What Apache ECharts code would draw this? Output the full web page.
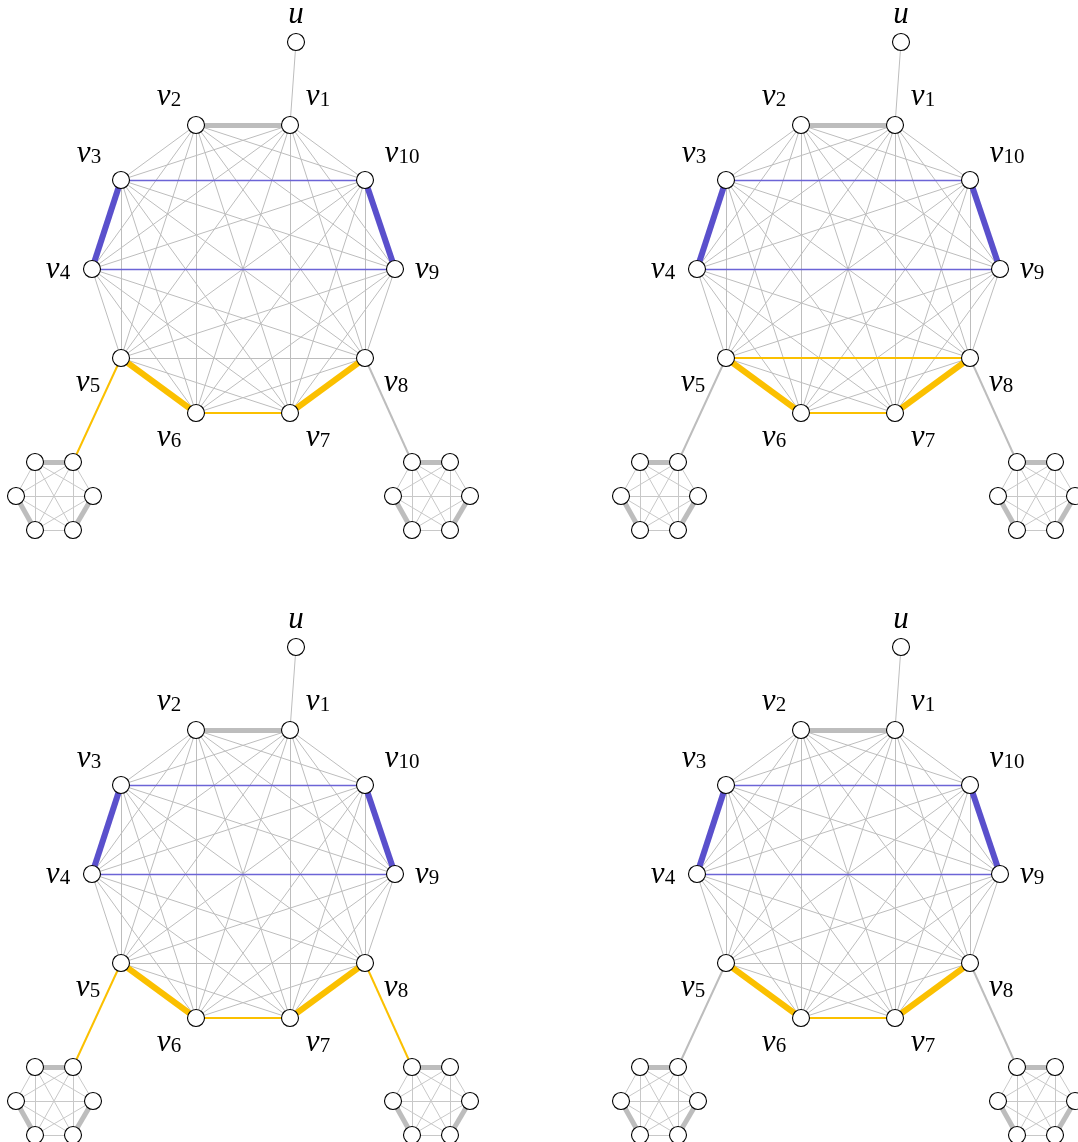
<!DOCTYPE html>
<html>
<head>
<meta charset="utf-8">
<style>
  html, body { margin: 0; padding: 0; background: #fff; }
  #chart { width: 1078px; height: 1142px; }
</style>
<script src="https://cdn.jsdelivr.net/npm/echarts@6/dist/echarts.min.js"></script>
</head>
<body>
<div id="chart"></div>
<script>
// nodes of the big graph (u + decagon), coordinates relative to decagon centre, y up
var bigNames = ['u', 'v1', 'v2', 'v3', 'v4', 'v5', 'v6', 'v7', 'v8', 'v9', 'v10'];
var bigX = [53, 47, -47, -122, -151, -122, -47, 47, 122, 152, 122];
var bigY = [227, 144, 144, 89, 0, -89, -144, -144, -89, 0, 89];

// the two small K6 gadgets: top-left, top-right, left, right, bottom-left, bottom-right
var leftHexX = [-208, -170, -227, -150, -208, -170];
var rightHexX = [169, 207, 150, 227, 169, 207];
var hexY = [-193, -193, -227, -227, -261, -261];
var hexMatching = [[0, 1], [2, 4], [3, 5]];

// colored edges, shared by all four drawings: [a, b, kind]
var commonEdges = [
  ['u', 'v1', 'thin'],
  ['v1', 'v2', 'thickGray'],
  ['v3', 'v10', 'thinBlue'],
  ['v4', 'v9', 'thinBlue'],
  ['v3', 'v4', 'thickBlue'],
  ['v9', 'v10', 'thickBlue'],
  ['v6', 'v7', 'midOrange'],
  ['v5', 'v6', 'thickOrange'],
  ['v7', 'v8', 'thickOrange']
];
// what changes from one drawing to the next
var panelEdges = [
  [['v5', 'L2', 'midOrange'], ['v8', 'R1', 'midGray'], ['v5', 'v8', 'thin']],
  [['v5', 'L2', 'midGray'], ['v8', 'R1', 'midGray'], ['v5', 'v8', 'midOrange']],
  [['v5', 'L2', 'midOrange'], ['v8', 'R1', 'midOrange'], ['v5', 'v8', 'thin']],
  [['v5', 'L2', 'midGray'], ['v8', 'R1', 'midGray'], ['v5', 'v8', 'thin']]
];

var BLUE = '#5a50cc', ORANGE = '#fbc000', GRAY = '#bdbdbd';
var styles = {
  thin: { color: GRAY, width: 1 },
  hexThin: { color: '#c8c8c8', width: 1 },
  thickGray: { color: GRAY, width: 5 },
  midGray: { color: GRAY, width: 2 },
  thinBlue: { color: '#6c64d6', width: 1.4 },
  thickBlue: { color: BLUE, width: 6 },
  midOrange: { color: ORANGE, width: 2 },
  thickOrange: { color: ORANGE, width: 6 }
};
function st(kind) {
  return { color: styles[kind].color, width: styles[kind].width, opacity: 1, curveness: 0 };
}

// label placement around each node (px from node centre)
var labelOffset = {
  u: [0, -28], v1: [28, -29], v2: [-27, -29], v3: [-32, -27], v10: [37, -27],
  v4: [-34, 0], v9: [32, 0], v5: [-33, 24], v8: [31, 24], v6: [-27, 24], v7: [28, 24]
};

var panels = [[0, 0], [605, 0], [0, 605], [605, 605]];

function buildSeries(p) {
  var nodes = [];
  bigNames.forEach(function (n, i) {
    var sub = n === 'u' ? '' : n.slice(1);
    nodes.push({
      name: n,
      value: [bigX[i], bigY[i]],
      label: {
        show: true,
        position: 'inside',
        offset: labelOffset[n],
        formatter: n === 'u' ? '{v|u}' : '{v|v}{s|' + sub + '}'
      }
    });
  });
  hexY.forEach(function (y, i) {
    nodes.push({ name: 'L' + (i + 1), value: [leftHexX[i], y] });
  });
  hexY.forEach(function (y, i) {
    nodes.push({ name: 'R' + (i + 1), value: [rightHexX[i], y] });
  });

  var special = {};
  commonEdges.concat(panelEdges[p]).forEach(function (e) {
    special[e[0] + '-' + e[1]] = e[2];
    special[e[1] + '-' + e[0]] = e[2];
  });

  var plain = [], colored = [];
  // complete graph on the decagon
  for (var i = 1; i < bigNames.length; i++) {
    for (var j = i + 1; j < bigNames.length; j++) {
      var a = bigNames[i], b = bigNames[j];
      if (!special[a + '-' + b]) {
        plain.push({ source: a, target: b, lineStyle: st('thin') });
      }
    }
  }
  // complete graphs on the gadgets
  ['L', 'R'].forEach(function (side) {
    for (var i = 0; i < 6; i++) {
      for (var j = i + 1; j < 6; j++) {
        var thick = hexMatching.some(function (m) { return m[0] === i && m[1] === j; });
        var edge = { source: side + (i + 1), target: side + (j + 1), lineStyle: st(thick ? 'thickGray' : 'hexThin') };
        (thick ? colored : plain).push(edge);
      }
    }
  });
  var ordered = commonEdges.concat(panelEdges[p]);
  // thin ones first so thick ones sit on top
  ordered.sort(function (x, y) { return styles[x[2]].width - styles[y[2]].width; });
  ordered.forEach(function (e) {
    colored.push({ source: e[0], target: e[1], lineStyle: st(e[2]) });
  });

  return {
    type: 'graph',
    coordinateSystem: 'cartesian2d',
    xAxisIndex: p,
    yAxisIndex: p,
    symbol: 'circle',
    symbolSize: 17,
    animation: false,
    silent: true,
    itemStyle: { color: '#fff', borderColor: '#000', borderWidth: 1.1 },
    lineStyle: { opacity: 1, curveness: 0 },
    label: {
      show: false,
      color: '#000',
      rich: {
        v: { fontFamily: 'Liberation Serif', fontStyle: 'italic', fontSize: 31, lineHeight: 30, verticalAlign: 'top', color: '#000' },
        s: { fontFamily: 'Liberation Serif', fontSize: 21, lineHeight: 13, verticalAlign: 'bottom', color: '#000' }
      }
    },
    data: nodes,
    links: plain.concat(colored)
  };
}

var option = {
  animation: false,
  grid: panels.map(function (o) {
    return { left: o[0], top: o[1], width: 473, height: 537 };
  }),
  xAxis: panels.map(function (o, i) {
    return { type: 'value', gridIndex: i, min: -243, max: 230, show: false };
  }),
  yAxis: panels.map(function (o, i) {
    return { type: 'value', gridIndex: i, min: -268, max: 269, show: false };
  }),
  series: panels.map(function (o, i) { return buildSeries(i); })
};

var myChart = echarts.init(document.getElementById('chart'));
myChart.setOption(option);
</script>
</body>
</html>
